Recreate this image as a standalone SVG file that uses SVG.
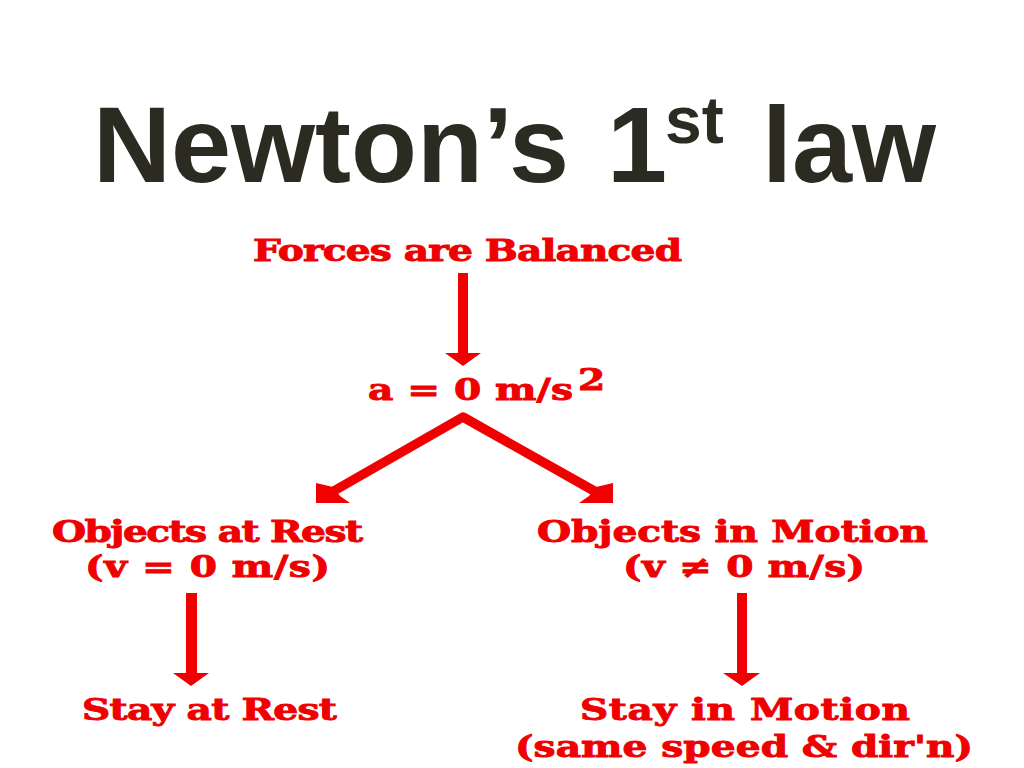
<svg xmlns="http://www.w3.org/2000/svg" width="1024" height="768" viewBox="0 0 1024 768">
<style>
.title{font-family:"Liberation Sans",Arial,sans-serif;font-weight:bold;fill:#2b2b22}
.lbl{font-family:"DejaVu Serif","Liberation Serif",serif;font-weight:bold;fill:#f00000;stroke:#f00000;stroke-width:0.9;font-size:29px}
.arr{fill:#f00000}
.ln{fill:none;stroke:#f00000;stroke-width:9.5;stroke-linejoin:round}
</style>
<rect width="1024" height="768" fill="#ffffff"/>
<g id="title">
<text class="title" x="93" y="182" font-size="108">Newton’s</text>
<text class="title" x="607" y="182" font-size="108">1</text>
<text class="title" x="665" y="143" font-size="66">st</text>
<text class="title" x="762" y="182" font-size="108">law</text>
</g>
<g id="node-forces"><text class="lbl" transform="scale(1.35 1)" x="187.4" y="261" font-size="31" textLength="317.8" lengthAdjust="spacing">Forces are Balanced</text></g>
<g id="node-accel">
<text class="lbl" transform="scale(1.35 1)" x="272.6" y="400" font-size="31" textLength="151.9" lengthAdjust="spacing">a = 0 m/s</text>
<text class="lbl" transform="scale(1.35 1)" x="428.1" y="390" font-size="24">2</text>
</g>
<g id="node-rest">
<text class="lbl" transform="scale(1.35 1)" x="38.5" y="542" textLength="230.4" lengthAdjust="spacing">Objects at Rest</text>
<text class="lbl" transform="scale(1.35 1)" x="63" y="577" textLength="181.5" lengthAdjust="spacing">(v = 0 m/s)</text>
</g>
<g id="node-motion">
<text class="lbl" transform="scale(1.35 1)" x="397.8" y="542" textLength="289.6" lengthAdjust="spacing">Objects in Motion</text>
<text class="lbl" transform="scale(1.35 1)" x="461.5" y="577" textLength="179.3" lengthAdjust="spacing">(v ≠ 0 m/s)</text>
</g>
<g id="node-stay-rest"><text class="lbl" transform="scale(1.35 1)" x="60.7" y="720" textLength="188.9" lengthAdjust="spacing">Stay at Rest</text></g>
<g id="node-stay-motion">
<text class="lbl" transform="scale(1.35 1)" x="429.6" y="720" textLength="244.4" lengthAdjust="spacing">Stay in Motion</text>
<text class="lbl" transform="scale(1.35 1)" x="381.5" y="757" textLength="339.3" lengthAdjust="spacing">(same speed &amp; dir'n)</text>
</g>
<g id="connectors">
<rect class="arr" x="458" y="273" width="10" height="82"/>
<polygon class="arr" points="445,353 481,353 463,366"/>
<polyline class="ln" points="332,492 463,417 596,492"/>
<polygon class="arr" points="316,483 316,503 350,503 340,496 333,487"/>
<polygon class="arr" points="613,483 613,503 579,503 589,496 596,487"/>
<rect class="arr" x="186" y="593" width="11" height="82"/>
<polygon class="arr" points="173,673 209,673 191,686"/>
<rect class="arr" x="737" y="593" width="10" height="82"/>
<polygon class="arr" points="723,673 760,673 742,686"/>
</g>
</svg>
